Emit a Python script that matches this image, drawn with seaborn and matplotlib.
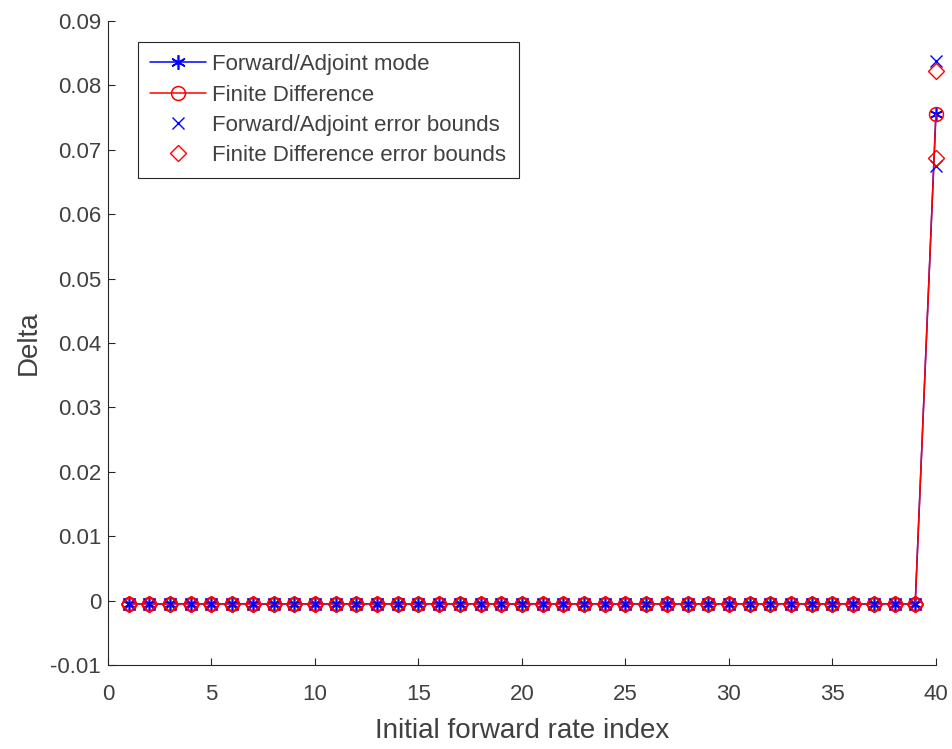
import matplotlib
matplotlib.use("Agg")
import matplotlib.pyplot as plt
import seaborn as sns
import pandas as pd

# Forward rate indices
rate_index = list(range(1, 41))

# Delta estimates from the two methods
delta_forward_adjoint = [
    -0.0005, -0.0005, -0.0005, -0.0005, -0.0005, -0.0005, -0.0005, -0.0005,
    -0.0005, -0.0005, -0.0005, -0.0005, -0.0005, -0.0005, -0.0005, -0.0005,
    -0.0005, -0.0005, -0.0005, -0.0005, -0.0005, -0.0005, -0.0005, -0.0005,
    -0.0005, -0.0005, -0.0005, -0.0005, -0.0005, -0.0005, -0.0005, -0.0005,
    -0.0005, -0.0005, -0.0005, -0.0005, -0.0005, -0.0005, -0.0005, 0.0755,
]
delta_finite_diff = [
    -0.0005, -0.0005, -0.0005, -0.0005, -0.0005, -0.0005, -0.0005, -0.0005,
    -0.0005, -0.0005, -0.0005, -0.0005, -0.0005, -0.0005, -0.0005, -0.0005,
    -0.0005, -0.0005, -0.0005, -0.0005, -0.0005, -0.0005, -0.0005, -0.0005,
    -0.0005, -0.0005, -0.0005, -0.0005, -0.0005, -0.0005, -0.0005, -0.0005,
    -0.0005, -0.0005, -0.0005, -0.0005, -0.0005, -0.0005, -0.0005, 0.0755,
]

# Error bounds (upper and lower) for each method
fa_upper = [-0.0005] * 39 + [0.0838]
fa_lower = [-0.0005] * 39 + [0.0675]
fd_upper = [-0.0005] * 39 + [0.0822]
fd_lower = [-0.0005] * 39 + [0.0688]

x_ticks = [0, 5, 10, 15, 20, 25, 30, 35, 40]
y_ticks = [-0.01, 0, 0.01, 0.02, 0.03, 0.04, 0.05, 0.06, 0.07, 0.08, 0.09]
y_tick_labels = ["-0.01", "0", "0.01", "0.02", "0.03", "0.04", "0.05",
                 "0.06", "0.07", "0.08", "0.09"]

sns.set_style("white")
plt.rcParams["font.family"] = ["Liberation Sans", "DejaVu Sans"]

df = pd.DataFrame({
    "idx": rate_index,
    "fa": delta_forward_adjoint,
    "fd": delta_finite_diff,
})
bounds_fa = pd.DataFrame({"idx": rate_index * 2, "v": fa_upper + fa_lower})
bounds_fd = pd.DataFrame({"idx": rate_index * 2, "v": fd_upper + fd_lower})

fig = plt.figure(figsize=(9.52, 7.49), dpi=100)
ax = fig.add_axes([0.1134, 0.1121, 0.8697, 0.8598])

blue = "#0000ff"
red = "#ff0000"
ink = "#262626"
text_ink = "#404040"

sns.lineplot(data=df, x="idx", y="fa", ax=ax, color=blue, lw=1.1,
             marker=(6, 2, 0), markersize=10.5, markeredgewidth=1.2,
             markeredgecolor=blue, estimator=None, clip_on=False,
             label="Forward/Adjoint mode")
sns.lineplot(data=df, x="idx", y="fd", ax=ax, color=red, lw=1.1,
             marker="o", markersize=10, markerfacecolor="none",
             markeredgecolor=red, markeredgewidth=1.1, estimator=None,
             clip_on=False, label="Finite Difference")
sns.lineplot(data=bounds_fa, x="idx", y="v", ax=ax, color=blue,
             linestyle="", marker="x", markersize=8.5, markeredgewidth=1.0,
             markeredgecolor=blue, estimator=None, sort=False, clip_on=False,
             label="Forward/Adjoint error bounds")
sns.lineplot(data=bounds_fd, x="idx", y="v", ax=ax, color=red,
             linestyle="", marker="D", markersize=8, markerfacecolor="none",
             markeredgecolor=red, markeredgewidth=1.0, estimator=None,
             sort=False, clip_on=False, label="Finite Difference error bounds")

ax.set_xlim(0, 40)
ax.set_ylim(-0.01, 0.09)
ax.set_xticks(x_ticks)
ax.set_yticks(y_ticks)
ax.set_yticklabels(y_tick_labels)
ax.tick_params(direction="in", length=5, width=0.8, colors=ink,
               labelsize=16, left=True, bottom=True)
ax.tick_params(axis="x", pad=14)
ax.tick_params(axis="y", pad=5)
for lab in ax.get_xticklabels() + ax.get_yticklabels():
    lab.set_color(text_ink)

for side in ("top", "right"):
    ax.spines[side].set_visible(False)
for side in ("left", "bottom"):
    ax.spines[side].set_color(ink)
    ax.spines[side].set_linewidth(0.8)

ax.set_xlabel("Initial forward rate index", fontsize=20, color=text_ink,
              labelpad=9)
ax.set_ylabel("Delta", fontsize=20, color=text_ink, labelpad=6)

leg = ax.legend(loc="upper left", bbox_to_anchor=(0.0362, 0.9674),
                fontsize=16, frameon=True, fancybox=False, framealpha=1,
                edgecolor=ink, handlelength=2.5, handletextpad=0.3,
                borderpad=0.55, labelspacing=0.42, borderaxespad=0)
leg.get_frame().set_linewidth(0.8)
for t in leg.get_texts():
    t.set_color(text_ink)

fig.savefig("out.png", dpi=100)
